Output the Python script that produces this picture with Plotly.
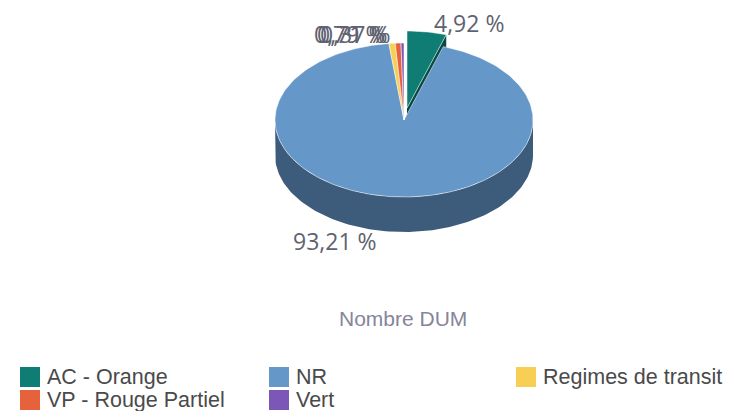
import math
import plotly.graph_objects as go

categories = ["AC - Orange", "NR", "Regimes de transit", "VP - Rouge Partiel", "Vert"]
values = [4.92, 93.21, 0.79, 0.71, 0.37]
top_colors = ["#0F7D74", "#6598C9", "#F7CF55", "#E5623D", "#7D57B8"]
side_colors = ["#0A4A46", "#3D5B7B", "#9C8436", "#8F3E27", "#4F3775"]

W, H = 731, 411
CX, CY, RX, RY, DEPTH = 404, 120, 129, 77, 35
EXPLODE = {"AC - Orange": (3, -12)}
LABEL_POS = {
    "AC - Orange": (469, 23), "NR": (335, 241), "Regimes de transit": (349, 34),
    "VP - Rouge Partiel": (352, 34), "Vert": (355, 34),
}
LEGEND_POS = [(20, 377), (269, 377), (516, 377), (20, 400), (269, 400)]
TEXT = "#5F6270"

fig = go.Figure()


def pt(deg, dx=0, dy=0, drop=0):
    a = math.radians(deg)
    return CX + dx + RX * math.sin(a), CY + dy - RY * math.cos(a) + drop


def add_poly(pts, color, line="rgba(0,0,0,0)", width=0):
    fig.add_trace(go.Scatter(x=[p[0] for p in pts], y=[p[1] for p in pts], mode="lines",
                             fill="toself", fillcolor=color, line=dict(color=line, width=width),
                             hoverinfo="skip", showlegend=False))


def arc(a0, a1, **kw):
    n = max(2, int(abs(a1 - a0) / 1.5) + 2)
    return [pt(a0 + (a1 - a0) * i / (n - 1), **kw) for i in range(n)]


# Cumulative angles, clockwise from 12 o'clock
total = sum(values)
spans, start = [], 0.0
for v in values:
    spans.append((start, start + v / total * 360))
    start += v / total * 360

order = [0, 1, 2, 3, 4]
for i in order:
    a0, a1 = spans[i]
    dx, dy = EXPLODE.get(categories[i], (0, 0))
    apex = (CX + dx, CY + dy)
    if dx or dy:
        wall = [apex] + [pt(a1, dx, dy)] + [pt(a1, dx, dy, DEPTH)] + [(apex[0], apex[1] + DEPTH)]
        add_poly(wall, side_colors[i])
    v0, v1 = max(a0, 90), min(a1, 270)
    if v1 > v0:
        add_poly(arc(v0, v1) + arc(v1, v0, drop=DEPTH), side_colors[i])

for i in order:
    a0, a1 = spans[i]
    dx, dy = EXPLODE.get(categories[i], (0, 0))
    apex = (CX + dx, CY + dy)
    add_poly([apex] + arc(a0, a1, dx=dx, dy=dy) + [apex], top_colors[i], "rgba(255,255,255,0.7)", 0.7)

annotations = []
for c, v in zip(categories, values):
    x, y = LABEL_POS[c]
    annotations.append(dict(x=x, y=y, xref="x", yref="y", showarrow=False, xanchor="center", yanchor="middle",
                            text=f"{v:.2f} %".replace(".", ","), font=dict(family="Open Sans", size=23, color=TEXT)))
annotations.append(dict(x=403, y=318, xref="x", yref="y", showarrow=False, text="Nombre DUM",
                        font=dict(family="Liberation Sans", size=21, color="#85859B")))

shapes = []
for c, col, (x, y) in zip(categories, top_colors, LEGEND_POS):
    shapes.append(dict(type="rect", xref="x", yref="y", x0=x, x1=x + 20, y0=y - 10, y1=y + 10,
                       fillcolor=col, line=dict(width=0)))
    annotations.append(dict(x=x + 25, y=y, xref="x", yref="y", showarrow=False, xanchor="left", yanchor="middle",
                            text=c, font=dict(family="Liberation Sans", size=21.5, color="#4A4A4A")))

fig.update_layout(
    width=W, height=H, margin=dict(l=0, r=0, t=0, b=0), paper_bgcolor="white", plot_bgcolor="white",
    showlegend=False, annotations=annotations, shapes=shapes,
    xaxis=dict(range=[0, W], visible=False, fixedrange=True),
    yaxis=dict(range=[H, 0], visible=False, fixedrange=True),
)
fig.write_html("out.html", config={"displayModeBar": False},
               post_script="document.body.style.margin='0';document.documentElement.style.overflow='hidden';")
